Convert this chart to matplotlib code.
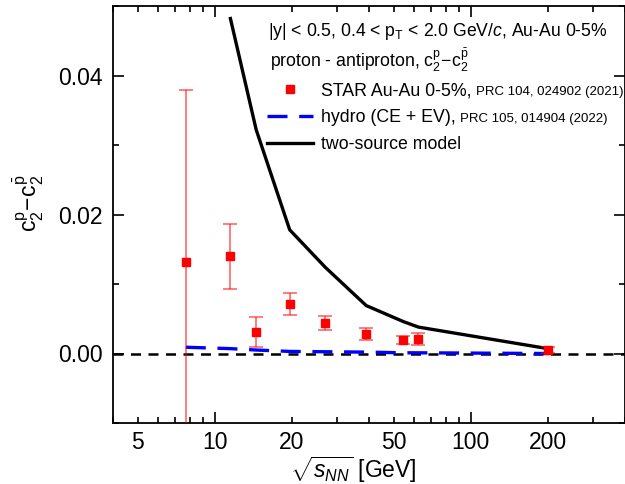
import matplotlib
matplotlib.use("Agg")
import matplotlib.pyplot as plt
from matplotlib.ticker import FixedLocator, FuncFormatter
import numpy as np

plt.rcParams['font.family'] = ['Liberation Sans', 'DejaVu Sans']
plt.rcParams['mathtext.fontset'] = 'custom'
plt.rcParams['mathtext.rm'] = 'Liberation Sans'
plt.rcParams['mathtext.it'] = 'Liberation Sans:italic'
plt.rcParams['mathtext.bf'] = 'Liberation Sans:bold'

# STAR data
star_x = [7.7, 11.5, 14.5, 19.6, 27, 39, 54.4, 62.4, 200]
star_y = [0.0132, 0.0140, 0.0031, 0.0071, 0.0044, 0.0028, 0.0019, 0.0021, 0.0005]
star_err = [0.0247, 0.0047, 0.0021, 0.0016, 0.0010, 0.0009, 0.0006, 0.0009, 0.0004]

# hydro (CE + EV)
hydro_x = [7.7, 11.5, 14.5, 19.6, 27, 39, 54.4, 62.4, 200]
hydro_y = [0.0009, 0.0007, 0.0005, 0.0003, 0.00025, 0.0002, 0.0001, 0.0001, 0.0]

# two-source model
two_x = [11.5, 14.5, 19.6, 27, 39, 54.4, 62.4, 200]
two_y = [0.0482, 0.0322, 0.0178, 0.0124, 0.0069, 0.0046, 0.0038, 0.0007]

W, H = 625, 484
fig = plt.figure(figsize=(W/100, H/100), dpi=100)
ax = fig.add_axes([113/W, 1-423/H, 1-113/W, (423-6)/H])

ax.axhline(0, color='black', lw=1.8, ls=(0, (4, 3)), zorder=1)
ax.plot(two_x, two_y, color='black', lw=2.4, zorder=3, label='two-source model')
ax.plot(hydro_x, hydro_y, color='blue', lw=2.4, ls=(0, (6, 3.5)), zorder=2,
        label='hydro (CE + EV),')
ax.errorbar(star_x, star_y, yerr=star_err, fmt='none', ecolor='red', alpha=0.55,
            elinewidth=1.3, capsize=5, capthick=1.3, zorder=4)
ax.plot(star_x, star_y, 's', color='red', ms=6, zorder=5, label='STAR Au-Au 0-5%,')

ax.set_xscale('log')
ax.set_xlim(4, 400)
ax.set_ylim(-0.01, 0.05)

ax.xaxis.set_major_locator(FixedLocator([10, 100]))
minors = [4, 5, 6, 7, 8, 9, 20, 30, 40, 50, 60, 70, 80, 90, 200, 300, 400]
ax.xaxis.set_minor_locator(FixedLocator(minors))
ax.xaxis.set_major_formatter(FuncFormatter(lambda v, p: '%d' % v))
ax.xaxis.set_minor_formatter(FuncFormatter(lambda v, p: '%d' % v if v in (5, 20, 50, 200) else ''))
ax.yaxis.set_major_locator(FixedLocator([0.0, 0.02, 0.04]))
ax.yaxis.set_minor_locator(FixedLocator([-0.01, 0.01, 0.03, 0.05]))
ax.yaxis.set_major_formatter(FuncFormatter(lambda v, p: '%.2f' % v))

ax.tick_params(which='both', direction='in', top=True, right=True, width=1.2,
               labelsize=16.5, colors='black')
ax.tick_params(which='major', length=8)
ax.tick_params(which='minor', length=4.5)
ax.tick_params(axis='x', which='both', pad=6)
ax.tick_params(axis='y', which='both', pad=7.5)
for s in ax.spines.values():
    s.set_linewidth(1.3)

ax.set_xlabel(r'$\sqrt{s_{NN}}$ [GeV]', fontsize=16.5)
ax.set_ylabel(r'$\mathrm{c}_2^{\mathrm{p}}\!-\!\mathrm{c}_2^{\bar{\mathrm{p}}}$', fontsize=16.5)
ax.xaxis.set_label_coords(0.469, -0.075)
ax.yaxis.set_label_coords(-0.13, 0.528)

fig.text(268/W, 1-36/H, r'|y| < 0.5, 0.4 < p$_{\mathrm{T}}$ < 2.0 GeV/$c$, Au-Au 0-5%',
         fontsize=12.7, va='baseline')
fig.text(270/W, 1-67/H, r'proton - antiproton, $\mathrm{c}_2^{\mathrm{p}}\!-\!\mathrm{c}_2^{\bar{\mathrm{p}}}$',
         fontsize=12.7, va='baseline')

h, l = ax.get_legend_handles_labels()
order = [2, 1, 0]
leg = ax.legend([h[i] for i in order], [l[i] for i in order], loc='upper left',
                bbox_to_anchor=(267/W, 1-82.5/H), bbox_transform=fig.transFigure,
                frameon=False, fontsize=12.8, borderpad=0, borderaxespad=0,
                handlelength=2.6, handletextpad=0.45, labelspacing=0.55)

fig.canvas.draw()
rend = fig.canvas.get_renderer()
refs = ['PRC 104, 024902 (2021)', 'PRC 105, 014904 (2022)', '']
for t, r in zip(leg.get_texts(), refs):
    if r:
        bb = t.get_window_extent(rend)
        fig.text((bb.x1 + 4) / W, (bb.y0 + 1) / H, r, fontsize=9.5, va='bottom', ha='left')

fig.savefig('out.png', dpi=100)
